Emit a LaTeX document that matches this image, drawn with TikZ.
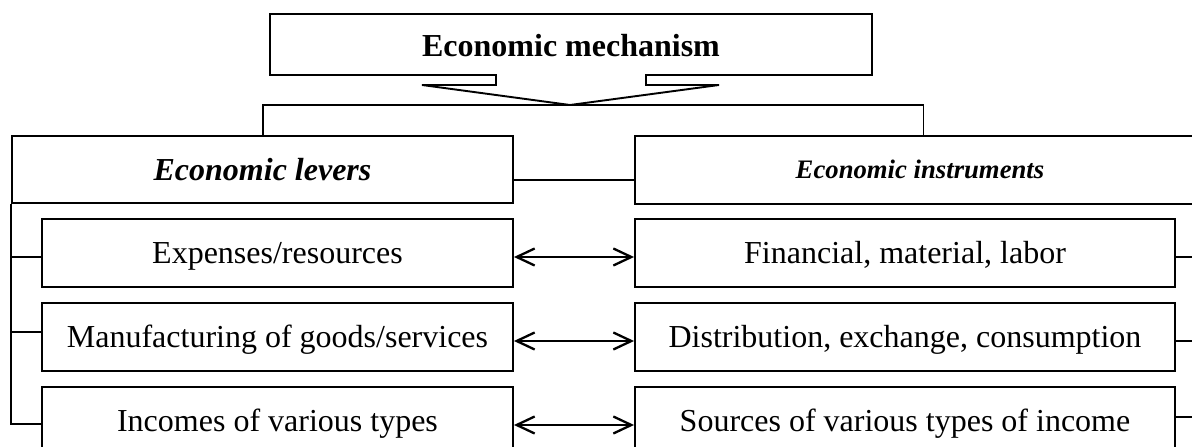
\documentclass[tikz,border=0pt]{standalone}
\usepackage{fontspec}
\setmainfont{Liberation Serif}
\usetikzlibrary{arrows.meta}
\begin{document}
\begin{tikzpicture}[x=1bp,y=-1bp,line width=1.9bp,
  lbl/.style={font=\fontsize{32bp}{38bp}\selectfont},
  box/.style={draw, rectangle, inner sep=0pt, lbl, text height=22bp, text depth=0pt},
  levbox/.style={box, minimum width=471bp, minimum height=68bp},
  insbox/.style={box, minimum width=540bp, minimum height=68bp},
  both/.style={{Straight Barb[length=18bp,width=17bp]}-{Straight Barb[length=18bp,width=17bp]}}
]
\useasboundingbox (0,0) rectangle (1192,447);
\clip (0,0) rectangle (1192,447);

% heading with its downward arrow outline
\node[lbl, inner sep=0pt, text height=22bp, text depth=0pt] (mech) at (571,46) {\textbf{Economic mechanism}};
\coordinate (tip) at (570,105);
\draw (270,14) -- (872,14) -- (872,75) -- (646,75) -- (646,85) -- (719,85)
  -- (tip) -- (422,85) -- (496,85) -- (496,75) -- (270,75) -- cycle;

% the two main groups
\node[box, minimum width=501bp, minimum height=67bp] (lev) at (262.5,169.5) {\textbf{\textit{Economic levers}}};
\node[box, minimum width=570bp, minimum height=68bp,
      font=\fontsize{26.7bp}{32bp}\selectfont, text height=18bp] (ins) at (920,170) {\textbf{\textit{Economic instruments}}};

\coordinate (busL) at (263,105);
\coordinate (busR) at (923.5,105);
\draw (lev.north -| busL) -- (busL) -- (busR) -- (ins.north -| busR);
\draw (lev.east |- 0,180) -- (ins.west |- 0,180);

% levers
\node[levbox] (l1) at (277.5,253) {Expenses/resources};
\node[levbox] (l2) at (277.5,337) {Manufacturing of goods/services};
\node[levbox] (l3) at (277.5,421) {Incomes of various types};

% instruments
\node[insbox] (r1) at (905,253) {Financial, material, labor};
\node[insbox] (r2) at (905,337) {Distribution, exchange, consumption};
\node[insbox] (r3) at (905,421) {Sources of various types of income};

% left bus and branches
\draw (lev.south west) -- (lev.south west |- 0,424) -- (l3.west |- 0,424);
\draw (lev.south west |- 0,256.7) -- (l1.west |- 0,256.7);
\draw (lev.south west |- 0,332) -- (l2.west |- 0,332);

% right branches
\draw (r1.east |- 0,256.7) -- (1200,256.7);
\draw (r2.east |- 0,340.7) -- (1200,340.7);
\draw (r3.east |- 0,416.7) -- (1200,416.7);

% two-way links
\draw[both, line width=2.3bp] ([yshift=-4bp]l1.east) -- ([yshift=-4bp]r1.west);
\draw[both, line width=2.3bp] ([yshift=-4bp]l2.east) -- ([yshift=-4bp]r2.west);
\draw[both, line width=2.3bp] ([yshift=-4bp]l3.east) -- ([yshift=-4bp]r3.west);
\end{tikzpicture}
\end{document}
